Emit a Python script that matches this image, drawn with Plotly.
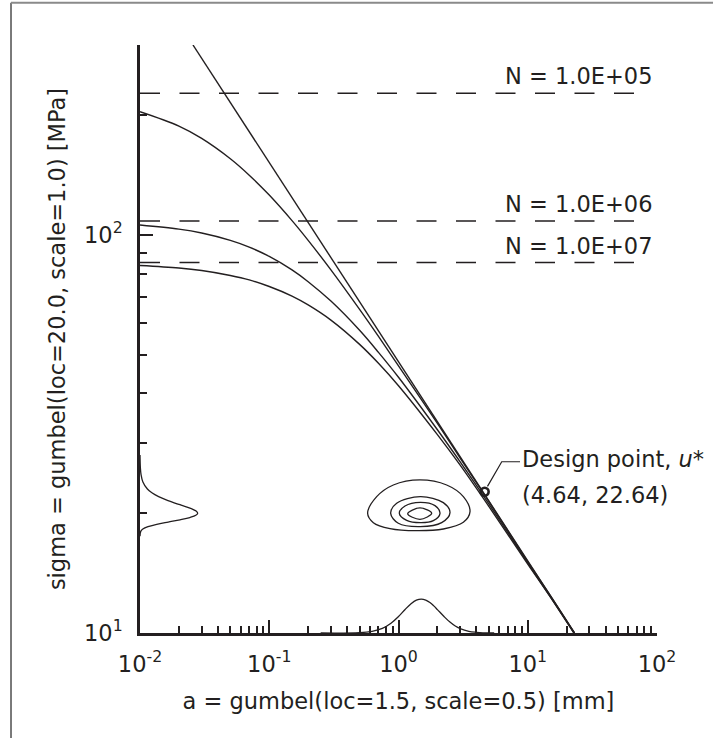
import math
import plotly.graph_objects as go

INK = "#231f20"
FONT = "DejaVu Sans"
FS = 22.5

# ---- axes ticks ----
X_MAJOR = [0.01, 0.1, 1, 10, 100]
X_TICKTEXT = ["10<sup>-2</sup>", "10<sup>-1</sup>", "10<sup>0</sup>", "10<sup>1</sup>", "10<sup>2</sup>"]
X_MINOR = [m * d for d in [0.01, 0.1, 1, 10] for m in range(2, 10)]
Y_MAJOR = [10, 100]
Y_TICKTEXT = ["10<sup>1</sup>", "10<sup>2</sup>"]
Y_MINOR = [20, 30, 40, 50, 60, 70, 80, 90, 200, 300]

# ---- threshold line (slope -1/2) ----
A_LINE = [0.0257, 23.0]
S_LINE = [300, 10]

# ---- fatigue-limit curves ----
A_GRID = [0.01, 0.02, 0.03, 0.05, 0.07, 0.1, 0.15, 0.2, 0.3, 0.5, 0.7, 1, 2, 3, 5, 10, 15]
A_N5 = A_GRID + [22.99]
S_N5 = [203.9, 187.7, 174.8, 155.4, 141.3, 125.9, 108.6, 96.9, 81.7, 65.0, 55.6, 46.9, 33.6, 27.5, 21.4, 15.1, 12.4, 10]
A_N6 = A_GRID + [22.85]
S_N6 = [105.9, 103.4, 101.1, 96.9, 93.2, 88.3, 81.7, 76.3, 68.2, 57.6, 50.7, 43.9, 32.4, 26.9, 21.1, 15.0, 12.3, 10]
A_N7 = A_GRID + [22.72]
S_N7 = [83.8, 82.6, 81.4, 79.1, 77.1, 74.2, 70.2, 66.7, 61.1, 53.1, 47.6, 41.8, 31.5, 26.4, 20.8, 14.9, 12.3, 10]

# ---- fatigue limits (dashed) ----
N_LABELS = ["N = 1.0E+05", "N = 1.0E+06", "N = 1.0E+07"]
N_LEVELS = [227, 108.4, 85.2]
DASH_A = [0.01, 70]
LABEL_A = 6.75

# ---- marginal pdf of sigma (drawn along y axis) ----
PDF_S_SIG = [17.5, 18, 18.25, 18.5, 18.75, 19, 19.25, 19.5, 19.75, 20, 20.25, 20.5, 20.75, 21,
             21.5, 22, 22.5, 23, 24, 25, 26, 28]
PDF_S_A = [0.01, 0.01013, 0.01052, 0.01153, 0.01347, 0.01652, 0.02039, 0.02428, 0.02703, 0.02795,
           0.02717, 0.02521, 0.02279, 0.02039, 0.01647, 0.01393, 0.01236, 0.01141, 0.01051, 0.01019,
           0.01007, 0.01]

# ---- marginal pdf of a (drawn along x axis) ----
PDF_A_A = [0.25, 0.5, 0.625, 0.75, 0.875, 1.0, 1.125, 1.25, 1.375, 1.5, 1.625, 1.75, 1.875, 2.0,
           2.25, 2.5, 2.75, 3.0, 3.5, 4.0, 4.5, 5.5]
PDF_A_SIG = [10, 10.02, 10.10, 10.27, 10.58, 11.00, 11.46, 11.84, 12.09, 12.17, 12.10, 11.93, 11.70,
             11.45, 11.00, 10.65, 10.41, 10.26, 10.10, 10.04, 10.01, 10.0]

# ---- joint pdf contours ----
RING1_A = [0.577, 0.678, 0.912, 1.466, 2.359, 3.175, 3.575, 3.175, 2.223, 1.382, 0.860, 0.639, 0.577]
RING1_S = [19.98, 22.00, 23.54, 24.24, 23.54, 22.00, 20.18, 18.97, 18.25, 18.07, 18.29, 18.93, 19.98]
RING2_A = [0.870, 0.968, 1.475, 2.223, 2.503, 2.158, 1.475, 0.997, 0.870]
RING2_S = [19.98, 21.17, 22.00, 21.26, 20.06, 18.93, 18.50, 18.86, 19.98]
RING3_A = [1.015, 1.123, 1.475, 1.916, 2.095, 1.860, 1.475, 1.157, 1.015]
RING3_S = [19.98, 20.85, 21.30, 20.89, 19.98, 19.15, 18.93, 19.19, 19.98]
RING4_A = [1.178, 1.466, 1.806, 1.466, 1.178]
RING4_S = [19.94, 20.61, 19.98, 19.30, 19.94]

# ---- design point ----
DP_A = [4.64]
DP_S = [22.64]
LEADER_A = [4.88, 6.29, 8.71]
LEADER_S = [23.35, 26.93, 26.93]
DP_TEXT1 = "Design point, <i>u</i>*"
DP_TEXT2 = "(4.64, 22.64)"
DP_TEXT_A = 9.19
DP_TEXT1_S = 27.3
DP_TEXT2_S = 22.2

fig = go.Figure()

def line(x, y, width=1.4, dash=None, shape="linear"):
    fig.add_trace(go.Scatter(x=x, y=y, mode="lines", showlegend=False, hoverinfo="skip",
                             line=dict(color=INK, width=width, dash=dash, shape=shape)))

for lvl in N_LEVELS:
    line(DASH_A, [lvl, lvl], width=1.5, dash="20px,19.5px")

line(A_LINE, S_LINE, width=1.4)
line(A_N5, S_N5, width=1.4, shape="spline")
line(A_N6, S_N6, width=1.4, shape="spline")
line(A_N7, S_N7, width=1.4, shape="spline")
line(PDF_S_A, PDF_S_SIG, width=1.3, shape="spline")
line(PDF_A_A, PDF_A_SIG, width=1.3, shape="spline")
for ra, rs in [(RING1_A, RING1_S), (RING2_A, RING2_S), (RING3_A, RING3_S), (RING4_A, RING4_S)]:
    line(ra, rs, width=1.3, shape="spline")
line(LEADER_A, LEADER_S, width=1.2)

fig.add_trace(go.Scatter(x=DP_A, y=DP_S, mode="markers", showlegend=False, hoverinfo="skip",
                         marker=dict(symbol="circle-open", size=8, color=INK,
                                     line=dict(color=INK, width=2.6))))

lg = math.log10
for txt, lvl in zip(N_LABELS, N_LEVELS):
    fig.add_annotation(x=lg(LABEL_A), y=lg(lvl), xref="x", yref="y", text=txt, showarrow=False,
                       xanchor="left", yanchor="middle", yshift=17, xshift=-3,
                       font=dict(family=FONT, size=FS, color=INK))

fig.add_annotation(x=lg(DP_TEXT_A), y=lg(DP_TEXT1_S), text=DP_TEXT1, showarrow=False, xanchor="left",
                   yanchor="middle", xshift=-3, font=dict(family=FONT, size=FS, color=INK))
fig.add_annotation(x=lg(DP_TEXT_A), y=lg(DP_TEXT2_S), text=DP_TEXT2, showarrow=False, xanchor="left",
                   yanchor="middle", xshift=-3, font=dict(family=FONT, size=FS, color=INK))

axis_common = dict(
    type="log", showgrid=False, zeroline=False, showline=True, linewidth=2.6, linecolor=INK,
    ticks="inside", ticklen=13, tickwidth=1.5, tickcolor=INK, tickmode="array",
    tickfont=dict(family=FONT, size=FS, color=INK),
)

fig.update_layout(
    width=713, height=738, autosize=False,
    margin=dict(l=140, r=56, t=45, b=105),
    paper_bgcolor="white", plot_bgcolor="white",
    font=dict(family=FONT, size=FS, color=INK),
    xaxis=dict(axis_common, range=[-2, 2], tickvals=X_MAJOR, ticktext=X_TICKTEXT,
               ticklabelstandoff=9,
               minor=dict(ticks="inside", ticklen=7, tickwidth=1.5, tickcolor=INK,
                          tickmode="array", tickvals=X_MINOR),
               title=dict(text="a = gumbel(loc=1.5, scale=0.5) [mm]", standoff=18,
                          font=dict(family=FONT, size=FS, color=INK))),
    yaxis=dict(axis_common, range=[1, 2.4771], tickvals=Y_MAJOR, ticktext=Y_TICKTEXT,
               ticklabelstandoff=10,
               minor=dict(ticks="inside", ticklen=7, tickwidth=1.5, tickcolor=INK,
                          tickmode="array", tickvals=Y_MINOR),
               title=dict(text="sigma = gumbel(loc=20.0, scale=1.0) [MPa]", standoff=13,
                          font=dict(family=FONT, size=FS, color=INK))),
)

# page frame (left and top edges of the original framed figure)
fig.add_shape(type="line", xref="paper", yref="paper", x0=-0.2495, x1=-0.2495, y0=1.072, y1=-0.18,
              line=dict(color="#333333", width=1.3))
fig.add_shape(type="line", xref="paper", yref="paper", x0=-0.2495, x1=1.11, y0=1.072, y1=1.072,
              line=dict(color="#8a8a8a", width=2))

fig.write_html("out.html")
